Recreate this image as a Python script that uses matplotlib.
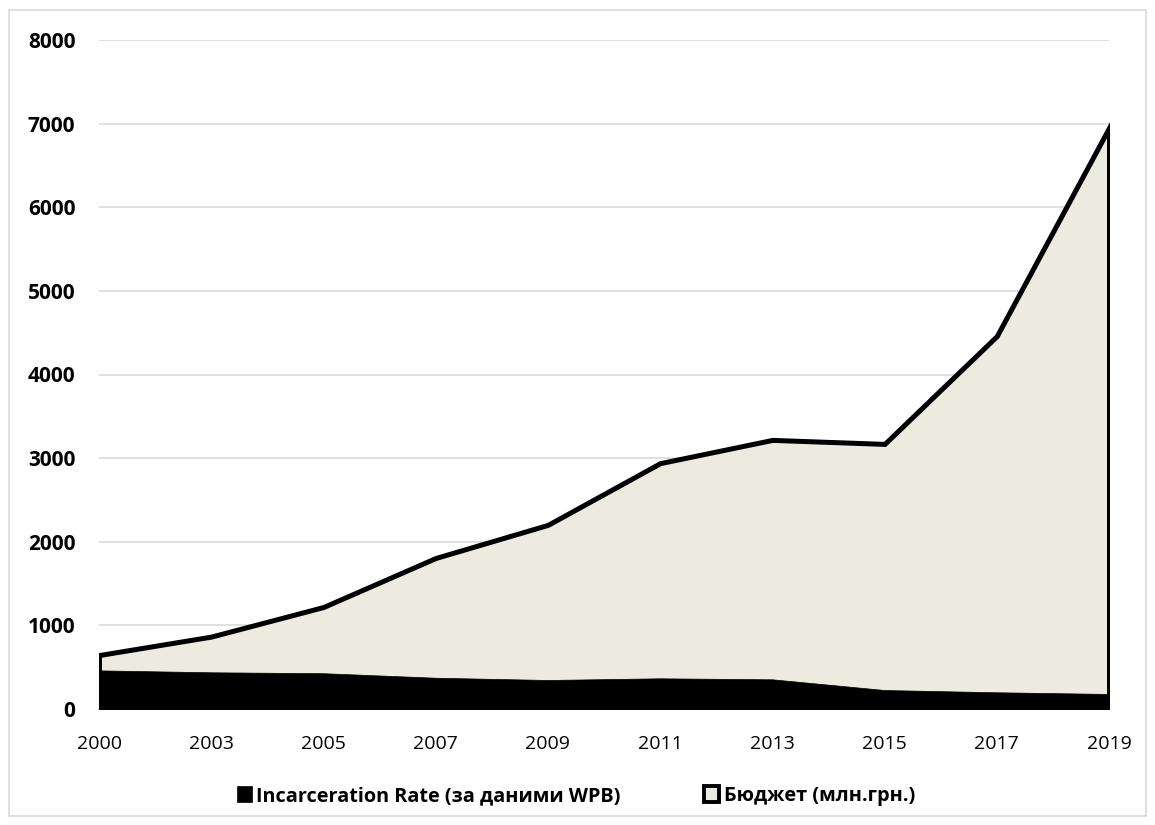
import matplotlib
matplotlib.use("Agg")
import matplotlib.pyplot as plt
from matplotlib.patches import Patch, Rectangle

years = ["2000", "2003", "2005", "2007", "2009", "2011", "2013", "2015", "2017", "2019"]
budget = [645, 866, 1220, 1806, 2202, 2940, 3218, 3170, 4460, 6950]
incarceration = [462, 439, 428, 374, 347, 367, 355, 227, 200, 180]

label_inc = "Incarceration Rate (за даними WPB)"
label_bud = "Бюджет (млн.грн.)"

beige = "#EDEADF"
grid_gray = "#D9D9D9"

fig = plt.figure(figsize=(11.55, 8.25), dpi=100)
fig.patches.append(Rectangle((9 / 1155, 1 - 816 / 825), 1137 / 1155, 806 / 825,
                             transform=fig.transFigure, fill=False,
                             edgecolor=grid_gray, linewidth=1.2))

ax = fig.add_axes([99 / 1155, 1 - 709 / 825, 1010 / 1155, 669 / 825])
x = list(range(len(years)))

ax.fill_between(x, 0, budget, facecolor=beige, edgecolor="black",
                linewidth=3.6, joinstyle="miter", zorder=2)
ax.fill_between(x, 0, incarceration, facecolor="black", edgecolor="black",
                linewidth=0.5, zorder=3)

ax.set_xlim(0, len(years) - 1)
ax.set_ylim(0, 8000)
ax.set_yticks(range(0, 8001, 1000))
ax.set_xticks(x)
ax.set_xticklabels(years)

ax.grid(axis="y", color=grid_gray, linewidth=1.2, zorder=0)
ax.set_axisbelow(True)
for s in ["top", "right", "left"]:
    ax.spines[s].set_visible(False)
ax.spines["bottom"].set_color(grid_gray)
ax.spines["bottom"].set_linewidth(1.2)
ax.spines["bottom"].set_zorder(1)

ax.tick_params(axis="both", length=0)
ax.tick_params(axis="y", pad=17)
ax.tick_params(axis="x", pad=19)
for t in ax.get_yticklabels():
    t.set_fontfamily(["Open Sans", "DejaVu Sans"])
    t.set_fontweight("bold")
    t.set_fontsize(15)
    t.set_color("black")
for t in ax.get_xticklabels():
    t.set_fontfamily(["Open Sans", "DejaVu Sans"])
    t.set_fontsize(14)
    t.set_color("black")

handles = [Patch(facecolor="black", edgecolor="black", linewidth=0.5),
           Patch(facecolor=beige, edgecolor="black", linewidth=2.8)]
leg = fig.legend(handles, [label_inc, label_bud], loc="center",
                 bbox_to_anchor=(576 / 1155, 1 - 796 / 825), ncol=2,
                 frameon=False, handlelength=0.75, handleheight=0.9,
                 handletextpad=0.25, columnspacing=4.2,
                 prop={"family": ["Open Sans", "DejaVu Sans"],
                       "weight": "bold", "size": 14.3})

fig.savefig("out.png", dpi=100)
